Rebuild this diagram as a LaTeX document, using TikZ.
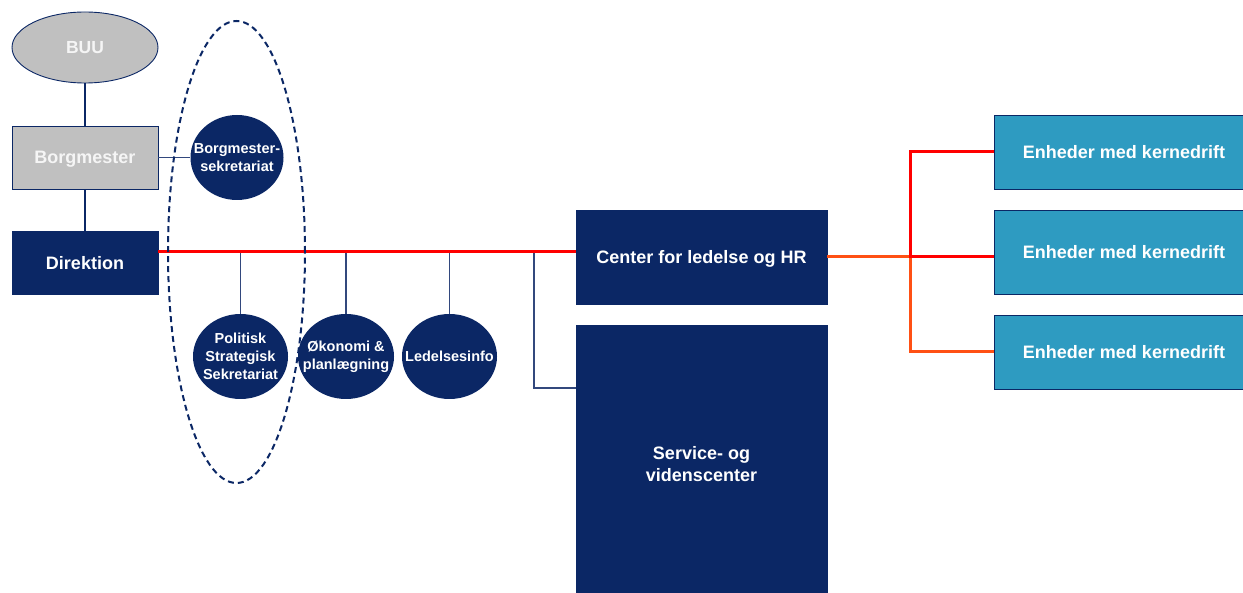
\documentclass[tikz,border=0pt]{standalone}
\usepackage{fontspec}
\setmainfont{Liberation Sans}
\usetikzlibrary{shapes.geometric}
\definecolor{navy}{RGB}{11,39,101}
\definecolor{gry}{RGB}{192,192,192}
\definecolor{teal2}{RGB}{46,155,193}
\definecolor{orng}{RGB}{255,80,20}
\definecolor{stub}{RGB}{50,72,125}
\begin{document}
\begin{tikzpicture}[x=1pt,y=-1pt,
  box/.style={rectangle,draw=navy,line width=0.8pt,inner sep=0pt,text=white,font=\bfseries\fontsize{18}{21}\selectfont,align=center,text depth=0pt},
  darkbox/.style={box,fill=navy},
  graybox/.style={box,fill=gry,text={rgb,255:red,245;green,245;blue,245}},
  unitbox/.style={box,fill=teal2,draw=navy},
  circtext/.style={inner sep=0pt,text=white,font=\bfseries\fontsize{14.5}{18}\selectfont,align=center},
  circ/.style={ellipse,fill=navy,inner sep=0pt,minimum height=85pt,label={[circtext]center:#1}},
  thick/.style={draw=navy,line width=2.2pt},
  thin/.style={draw=stub,line width=1.3pt},
  redl/.style={draw=red,line width=3pt},
  orl/.style={draw=orng,line width=3pt}]
\useasboundingbox (0,0) rectangle (1243,593);
% nodes
\node[ellipse,fill=gry,draw=navy,line width=0.9pt,minimum width=146pt,minimum height=71pt,inner sep=0pt,text depth=0pt,text={rgb,255:red,245;green,245;blue,245},font=\bfseries\fontsize{17.5}{20}\selectfont] (BUU) at (85,47.5) {BUU};
\node[graybox,minimum width=146pt,minimum height=63pt] (Borg) at (85,157.5) {Borgmester};
\node[darkbox,minimum width=146pt,minimum height=63pt] (Dir) at (85,262.5) {Direktion};
\node[circ={Borgmester-\\sekretariat},minimum width=93pt] (Bsek) at (237,157.5) {};
\node[circ={Politisk\\Strategisk\\Sekretariat},minimum width=95pt] (Pol) at (240.5,356.5) {};
\node[circ={Økonomi \&\\planlægning},minimum width=96pt] (Oko) at (346,356.5) {};
\node[circ={Ledelsesinfo},minimum width=95pt] (Led) at (449.5,356.5) {};
\node[darkbox,minimum width=251pt,minimum height=94pt] (HR) at (701.5,257) {Center for ledelse og HR};
\node[darkbox,minimum width=251pt,minimum height=272pt,label={[text=white,align=center,font=\bfseries\fontsize{18}{22}\selectfont,yshift=-3pt]center:Service- og\\videnscenter}] (Serv) at (701.5,461) {};
\node[unitbox,minimum width=260pt,minimum height=74pt] (E1) at (1124,152) {Enheder med kernedrift};
\node[unitbox,minimum width=260pt,minimum height=84pt] (E2) at (1124,252) {Enheder med kernedrift};
\node[unitbox,minimum width=260pt,minimum height=74pt] (E3) at (1124,352) {Enheder med kernedrift};
% coordinates
\coordinate (bus) at (158,252);
\coordinate (sj) at (534,252);
\coordinate (sjend) at (576,388);
\coordinate (fork) at (910,257);
% connectors
\draw[thick] (BUU.south) -- (Borg.north);
\draw[thick] (Borg.south) -- (Dir.north);
\draw[thin] (Borg.east) -- (Bsek.west);
\draw[thin] (Pol.north) -- (Pol.north |- bus);
\draw[thin] (Oko.north) -- (Oko.north |- bus);
\draw[thin] (Led.north) -- (Led.north |- bus);
\draw[thin] (sj) |- (sjend);
\draw[redl] (Dir.east |- bus) -- (HR.west |- bus);
\draw[orl] (HR.east |- fork) -- (fork) |- (E3.west);
\draw[redl] (E1.west) -| (fork) -- (E2.west |- fork);
% dashed group
\node[ellipse,draw=navy,line width=2pt,dash pattern=on 6pt off 4pt,minimum width=137pt,minimum height=462pt,inner sep=0pt] (grp) at (236.5,252) {};
\end{tikzpicture}
\end{document}
